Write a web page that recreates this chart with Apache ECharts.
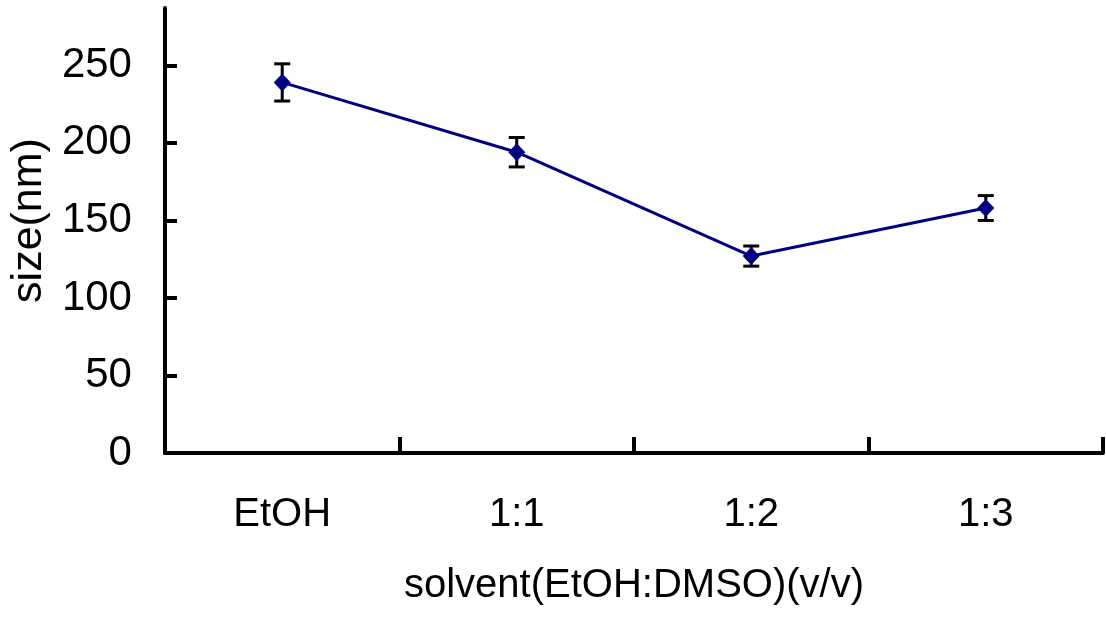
<!DOCTYPE html>
<html>
<head>
<meta charset="utf-8">
<script src="https://cdn.jsdelivr.net/npm/echarts@6/dist/echarts.min.js"></script>
<style>
  html, body { margin: 0; padding: 0; background: #fff; }
  #container { width: 1106px; height: 626px; }
</style>
</head>
<body>
<div id="container"></div>
<script>
// 数据
var categories = ['EtOH', '1:1', '1:2', '1:3'];
var sizes = [239, 194, 127, 158];
var errors = [12, 9.5, 6.5, 8];
var yTicks = [0, 50, 100, 150, 200, 250];

var font = "'Liberation Sans', Arial, sans-serif";

var errData = sizes.map(function (v, i) {
    return [i, v - errors[i], v + errors[i]];
});

var myChart = echarts.init(document.getElementById('container'));

var option = {
    animation: false,
    grid: { left: 161, right: 3, top: 8, bottom: 173 },
    xAxis: {
        type: 'category',
        data: categories,
        boundaryGap: true,
        name: 'solvent(EtOH:DMSO)(v/v)',
        nameLocation: 'middle',
        nameGap: 113,
        nameTextStyle: { fontSize: 40, color: '#000', fontFamily: font },
        axisLine: { show: true, lineStyle: { color: '#000', width: 4 } },
        axisTick: { show: true, inside: true, length: 16, interval: 0, alignWithLabel: false, lineStyle: { color: '#000', width: 4 } },
        axisLabel: { fontSize: 40, color: '#000', fontFamily: font, margin: 42, interval: 0 },
        splitLine: { show: false }
    },
    yAxis: {
        type: 'value',
        min: 0,
        max: 287,
        interval: 50,
        name: 'size(nm)',
        nameLocation: 'middle',
        nameGap: 101,
        nameTextStyle: { fontSize: 43, color: '#000', fontFamily: font, padding: [0, 0, 0, 20] },
        axisLine: { show: true, lineStyle: { color: '#000', width: 4 } },
        axisTick: { show: true, inside: true, length: 12, customValues: yTicks, lineStyle: { color: '#000', width: 4 } },
        axisLabel: { fontSize: 42, color: '#000', fontFamily: font, margin: 33, customValues: yTicks },
        splitLine: { show: false }
    },
    series: [
        {
            // 误差线
            type: 'custom',
            z: 1,
            data: errData,
            renderItem: function (params, api) {
                var x = api.value(0);
                var lo = api.coord([x, api.value(1)]);
                var hi = api.coord([x, api.value(2)]);
                var w = 8;
                var st = { stroke: '#000', lineWidth: 3 };
                return {
                    type: 'group',
                    children: [
                        { type: 'line', shape: { x1: lo[0], y1: lo[1], x2: hi[0], y2: hi[1] }, style: st },
                        { type: 'line', shape: { x1: lo[0] - w, y1: lo[1], x2: lo[0] + w, y2: lo[1] }, style: st },
                        { type: 'line', shape: { x1: hi[0] - w, y1: hi[1], x2: hi[0] + w, y2: hi[1] }, style: st }
                    ]
                };
            }
        },
        {
            name: 'size',
            type: 'line',
            z: 3,
            data: sizes,
            symbol: 'diamond',
            symbolSize: [17, 18],
            itemStyle: { color: '#000080' },
            lineStyle: { color: '#000080', width: 3 }
        }
    ]
};

myChart.setOption(option, true);
</script>
</body>
</html>
